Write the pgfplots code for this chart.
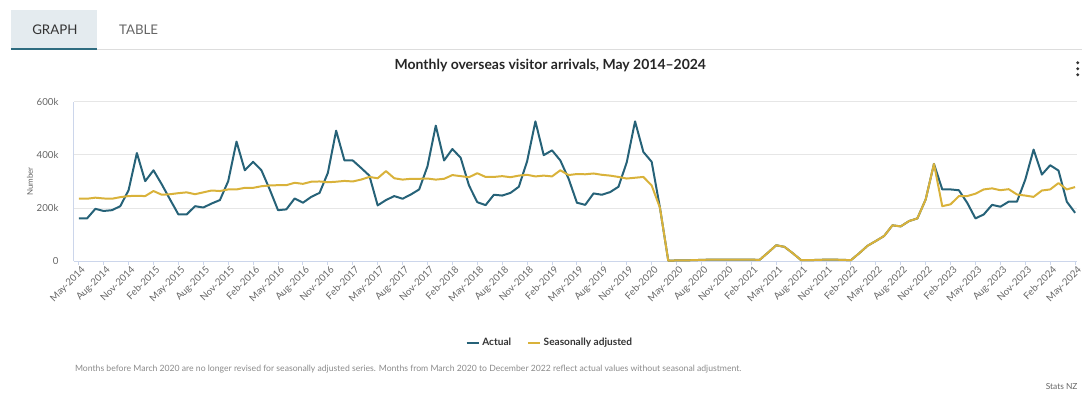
\documentclass[border=0pt]{standalone}
\usepackage{pgfplots}
\pgfplotsset{compat=1.18}
\usepackage{fontspec}
\setmainfont{Lato}
\definecolor{actual}{HTML}{266278}
\definecolor{seas}{HTML}{D9B23A}
\definecolor{axisc}{HTML}{CCD6EB}
\definecolor{gridc}{HTML}{E6E6E6}
\definecolor{labc}{HTML}{666666}
\definecolor{txt}{HTML}{333333}
\definecolor{tabbg}{HTML}{E4EBEF}
\definecolor{tabline}{HTML}{2F6C80}
\definecolor{sepc}{HTML}{DDDDDD}
\definecolor{notec}{HTML}{8A8A8A}
\begin{document}
\begin{tikzpicture}
\begin{scope}[x=0.75pt,y=0.75pt]
\path[use as bounding box] (0,0) rectangle (1085,394);
% tabs
\fill[tabbg] (11,345) rectangle (97,384);
\draw[sepc, line width=0.75pt] (97,344) -- (1085,344);
\draw[tabline, line width=1.6pt] (11,345) -- (97,345);
\node[font=\fontsize{10}{11}\selectfont, text=txt] at (55,364) {GRAPH};
\node[font=\fontsize{10}{11}\selectfont, text=labc] at (139,364) {TABLE};
% title
\node[font=\bfseries\fontsize{10.5}{12}\selectfont, text=black!85] at (552,328) {Monthly overseas visitor arrivals, May 2014–2024};
% menu dots
\fill[txt] (1081,331) circle (1.6);
\fill[txt] (1081,325) circle (1.6);
\fill[txt] (1081,319) circle (1.6);
% y label
\node[rotate=90, font=\fontsize{6}{7}\selectfont, text=labc] at (30,212) {Number};
% note
\node[anchor=west, font=\fontsize{6.5}{7.5}\selectfont, text=notec, inner sep=0pt] at (75,24) {Months before March 2020 are no longer revised for seasonally adjusted series. Months from March 2020 to December 2022 reflect actual values without seasonal adjustment.};
\node[anchor=east, font=\fontsize{6.3}{7}\selectfont, text=labc, inner sep=0pt] at (1081,6) {Stats NZ};
\end{scope}
\begin{axis}[
  at={(55.5pt,99pt)}, anchor=south west,
  scale only axis, width=754.5pt, height=120pt,
  xmin=-0.6, xmax=120.2, ymin=0, ymax=600,
  axis x line*=bottom, axis y line*=left,
  axis line style={-, draw=axisc, line width=0.75pt},
  xtick={0,3,...,120},
  xticklabels={May-2014,Aug-2014,Nov-2014,Feb-2015,May-2015,Aug-2015,Nov-2015,Feb-2016,May-2016,Aug-2016,Nov-2016,Feb-2017,May-2017,Aug-2017,Nov-2017,Feb-2018,May-2018,Aug-2018,Nov-2018,Feb-2019,May-2019,Aug-2019,Nov-2019,Feb-2020,May-2020,Aug-2020,Nov-2020,Feb-2021,May-2021,Aug-2021,Nov-2021,Feb-2022,May-2022,Aug-2022,Nov-2022,Feb-2023,May-2023,Aug-2023,Nov-2023,Feb-2024,May-2024},
  ytick={0,200,400,600},
  yticklabels={0,200k,400k,600k},
  tick align=outside,
  major tick length=3pt,
  x tick style={draw=axisc, line width=0.75pt},
  y tick style={draw=none},
  ymajorgrids,
  grid style={gridc, line width=0.75pt},
  /pgf/number format/assume math mode=true,
  xticklabel style={rotate=45, anchor=north east, font=\fontsize{7.3}{8}\selectfont, text=labc, inner sep=1pt, xshift=2pt},
  yticklabel style={font=\fontsize{7.3}{8}\selectfont, text=labc, xshift=-5pt},
  legend style={at={(0.475,-0.5125)}, anchor=center, draw=none, fill=none, legend columns=2,
    font=\bfseries\fontsize{7.6}{8.5}\selectfont, text=txt,
    /tikz/every even column/.append style={column sep=10pt}},
  legend image code/.code={\draw[#1] (0pt,0pt) -- (9pt,0pt);},
  clip=false,
]
\addplot[actual, line width=1.5pt, line join=round] coordinates {
(0,161) (1,161) (2,197) (3,189) (4,192) (5,207) (6,267) (7,407) (8,301) (9,342)
(10,289) (11,232) (12,176) (13,176) (14,207) (15,202) (16,217) (17,230) (18,301) (19,450)
(20,342) (21,374) (22,342) (23,270) (24,192) (25,195) (26,236) (27,220) (28,242) (29,257)
(30,332) (31,491) (32,379) (33,379) (34,351) (35,322) (36,210) (37,230) (38,245) (39,235)
(40,251) (41,270) (42,357) (43,510) (44,379) (45,422) (46,389) (47,285) (48,222) (49,211)
(50,250) (51,247) (52,257) (53,280) (54,376) (55,526) (56,399) (57,417) (58,379) (59,310)
(60,220) (61,212) (62,255) (63,250) (64,260) (65,280) (66,372) (67,526) (68,411) (69,374)
(70,201) (71,2) (72,3) (73,3) (74,4) (75,5) (76,6) (77,6) (78,6) (79,6)
(80,6) (81,6) (82,5) (83,32) (84,60) (85,54) (86,30) (87,4) (88,4) (89,5)
(90,6) (91,6) (92,5) (93,4) (94,30) (95,58) (96,76) (97,95) (98,135) (99,131)
(100,151) (101,161) (102,232) (103,366) (104,270) (105,270) (106,267) (107,220) (108,161) (109,176)
(110,212) (111,205) (112,224) (113,224) (114,307) (115,420) (116,326) (117,361) (118,341) (119,224)
(120,182)};
\addlegendentry{Actual}
\addplot[seas, line width=1.5pt, line join=round] coordinates {
(0,235) (1,235) (2,239) (3,236) (4,235) (5,241) (6,245) (7,246) (8,245) (9,264)
(10,250) (11,252) (12,256) (13,259) (14,252) (15,259) (16,266) (17,264) (18,270) (19,270)
(20,276) (21,276) (22,282) (23,285) (24,286) (25,286) (26,295) (27,291) (28,299) (29,300)
(30,297) (31,299) (32,302) (33,300) (34,307) (35,317) (36,312) (37,339) (38,312) (39,307)
(40,310) (41,310) (42,311) (43,307) (44,310) (45,324) (46,320) (47,316) (48,331) (49,317)
(50,317) (51,320) (52,316) (53,322) (54,325) (55,319) (56,322) (57,319) (58,342) (59,324)
(60,328) (61,327) (62,330) (63,325) (64,322) (65,317) (66,311) (67,314) (68,317) (69,285)
(70,201) (71,2) (72,3) (73,3) (74,4) (75,5) (76,6) (77,6) (78,6) (79,6)
(80,6) (81,6) (82,5) (83,32) (84,60) (85,54) (86,30) (87,4) (88,4) (89,5)
(90,6) (91,6) (92,5) (93,4) (94,30) (95,58) (96,76) (97,95) (98,135) (99,131)
(100,151) (101,161) (102,232) (103,366) (104,207) (105,214) (106,245) (107,245) (108,254) (109,270)
(110,274) (111,267) (112,271) (113,251) (114,247) (115,242) (116,266) (117,270) (118,294) (119,270)
(120,279)};
\addlegendentry{Seasonally adjusted}
\end{axis}
\end{tikzpicture}
\end{document}
